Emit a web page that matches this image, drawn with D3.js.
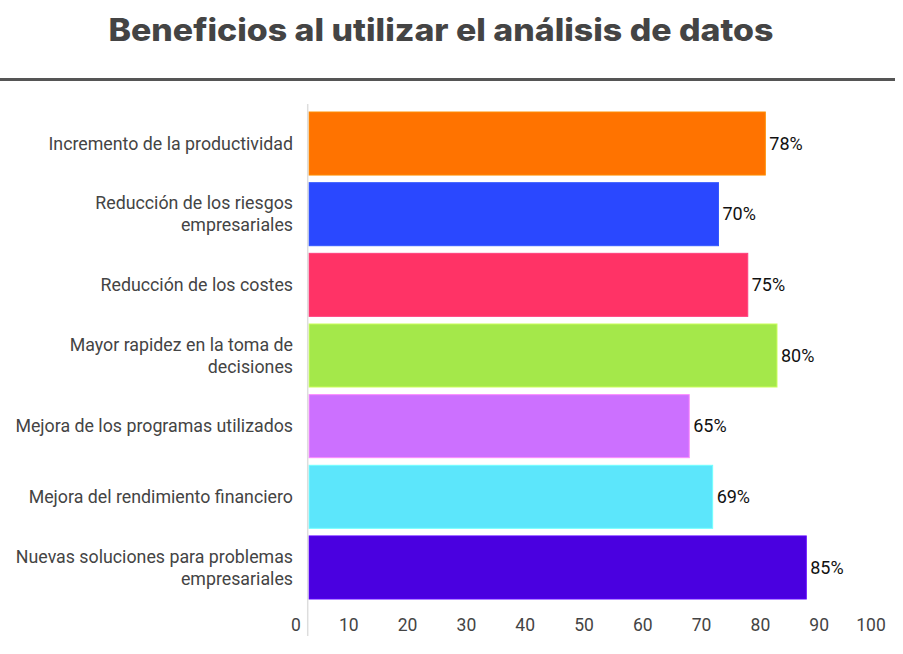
<!DOCTYPE html>
<html>
<head>
<meta charset="utf-8">
<script src="https://cdn.jsdelivr.net/npm/d3@7"></script>
<style>
  html, body { margin: 0; padding: 0; background: #fff; }
  svg { display: block; }
</style>
</head>
<body>
<svg id="chart" width="903" height="654"></svg>
<script>
const title = "Beneficios al utilizar el análisis de datos";
const categories = [
  ["Incremento de la productividad"],
  ["Reducción de los riesgos", "empresariales"],
  ["Reducción de los costes"],
  ["Mayor rapidez en la toma de", "decisiones"],
  ["Mejora de los programas utilizados"],
  ["Mejora del rendimiento financiero"],
  ["Nuevas soluciones para problemas", "empresariales"]
];
const values = [78, 70, 75, 80, 65, 69, 85];
const valueLabels = ["78%", "70%", "75%", "80%", "65%", "69%", "85%"];
const colors = ["#ff7300", "#2a48ff", "#ff3366", "#a4e84a", "#cc70ff", "#5ce6fb", "#4a00e0"];
const tickValues = [0, 10, 20, 30, 40, 50, 60, 70, 80, 90, 100];

const svg = d3.select("#chart");

// Title
svg.append("text")
  .attr("x", 441).attr("y", 41)
  .attr("text-anchor", "middle")
  .attr("font-family", "Inter, 'Open Sans', sans-serif")
  .attr("font-weight", 800)
  .attr("font-size", 31)
  .attr("fill", "#444")
  .attr("textLength", 665).attr("lengthAdjust", "spacingAndGlyphs")
  .text(title);

// Rule under title
svg.append("rect").attr("x", 0).attr("y", 78).attr("width", 895).attr("height", 3).attr("fill", "#555");

const idx = d3.range(values.length);
const x = d3.scaleLinear().domain([0, 100]).range([309, 894]);
const y = d3.scaleBand().domain(idx).range([108.2, 602.8]).paddingInner(0.108).paddingOuter(0.054);

// Bars
svg.append("g").selectAll("rect").data(idx).join("rect")
  .attr("x", x(0))
  .attr("y", i => y(i))
  .attr("width", i => x(values[i]) - x(0))
  .attr("height", y.bandwidth())
  .attr("fill", i => colors[i])
  .attr("stroke", i => d3.color(colors[i]).brighter(0.6))
  .attr("stroke-width", 1);

// Vertical axis line
svg.append("line").attr("x1", 307.7).attr("x2", 307.7).attr("y1", 104).attr("y2", 636)
  .attr("stroke", "#ddd").attr("stroke-width", 1.5);

// Category labels
const labG = svg.append("g")
  .attr("font-family", "Roboto, sans-serif")
  .attr("font-size", 17.8)
  .attr("fill", "#444")
  .attr("text-anchor", "end");
idx.forEach(i => {
  const lines = categories[i];
  const cy = y(i) + y.bandwidth() / 2;
  const lh = 22;
  const txt = labG.append("text").attr("x", 293);
  lines.forEach((ln, k) => {
    txt.append("tspan").attr("x", 293)
      .attr("y", cy + (k - (lines.length - 1) / 2) * lh)
      .attr("dy", "0.35em")
      .text(ln);
  });
});

// Value labels
svg.append("g").selectAll("text").data(idx).join("text")
  .attr("x", i => x(values[i]) + 4)
  .attr("y", i => y(i) + y.bandwidth() / 2)
  .attr("dy", "0.35em")
  .attr("font-family", "Roboto, sans-serif")
  .attr("font-size", 18)
  .attr("fill", "#111")
  .text(i => valueLabels[i]);

// X tick labels
const tickScale = d3.scaleLinear().domain([0, 100]).range([290, 878]);
const ax = svg.append("g").attr("transform", "translate(0,625)")
  .call(d3.axisBottom(tickScale).tickValues(tickValues).tickSize(0).tickPadding(0).tickFormat(d3.format("d")));
ax.select(".domain").remove();
ax.selectAll(".tick").attr("transform", d => `translate(${Math.max(296, Math.min(871, tickScale(d)))},0)`);
ax.selectAll("text")
  .attr("font-family", "Roboto, sans-serif")
  .attr("font-size", 17.5)
  .attr("fill", "#444")
  .attr("dy", "0.35em")
  .attr("y", 0);
</script>
</body>
</html>
